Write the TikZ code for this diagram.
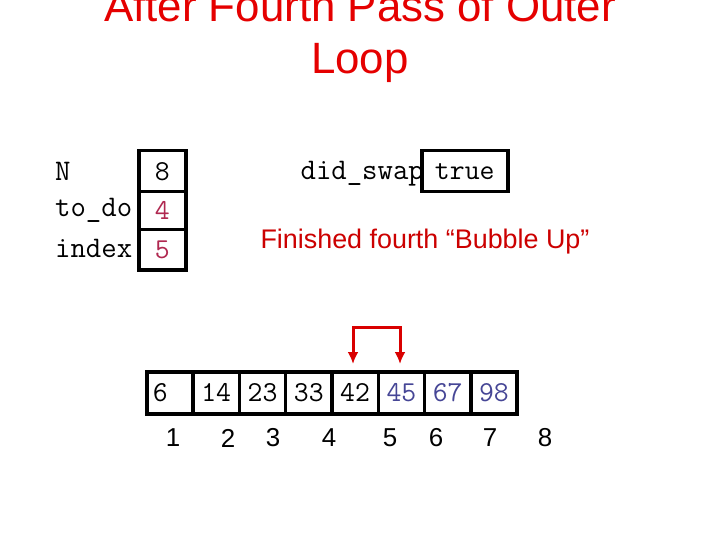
\documentclass[tikz,border=0pt]{standalone}
\usepackage{fontspec}
\setmainfont{Liberation Sans}
\usetikzlibrary{arrows.meta}
\definecolor{magred}{RGB}{176,40,80}
\definecolor{slate}{RGB}{70,70,150}
\begin{document}
\begin{tikzpicture}[x=1bp,y=-1bp,
  cell/.style={draw=black,line width=3.5bp,minimum width=47bp,minimum height=42bp,inner sep=0pt,font=\ttfamily\fontsize{29}{29}\selectfont,anchor=north west},
  lbl/.style={font=\ttfamily\fontsize{30}{30}\selectfont,anchor=west,inner sep=0pt},
  idx/.style={font=\fontsize{26}{26}\selectfont,inner sep=0pt},
  arr/.style={draw=red!85!black,line width=3bp,-{Latex[length=12bp,width=11bp]}}]
\useasboundingbox (0,0) rectangle (720,540);
\fill[white] (0,0) rectangle (720,540);
\node[text=red!90!black,font=\fontsize{44}{52}\selectfont,align=center] (title) at (360,36) {After Fourth Pass of Outer\\Loop};
% variables
\node[lbl] (Nl) at (55,171) {N};
\node[lbl] (todol) at (55,210) {to\_do};
\node[lbl] (indexl) at (55,248) {index};
\node[cell,minimum height=41bp] (N) at (137,149) {8};
\node[cell,minimum height=38bp,text=magred] (todo) at (137,190) {4};
\node[cell,minimum height=40bp,text=magred] (index) at (137,228) {5};
\node[lbl,anchor=east] (dsl) at (424,174) {did\_swap};
\node[cell,minimum width=86bp,minimum height=41bp] (ds) at (420,149) {true};
\node[text=red!80!black,font=\fontsize{27}{27}\selectfont] (fin) at (425,242) {Finished fourth “Bubble Up”};
% array
\foreach \v/\c [count=\i] in {14/black,23/black,33/black,42/black,45/slate,67/slate,98/slate}{
  \node[cell,minimum width=46.3bp,text=\c] (a\i) at ({145+46.3*\i},370) {\v};
}
\node[cell,minimum width=46.3bp,text width=34bp,align=left,inner xsep=6bp] (a0) at (145,370) {6};
\coordinate (t5) at (353,327);
\coordinate (t6) at (400,327);
\draw[line width=3bp,red!85!black] (353,350) -- (t5) -- (t6) -- (400,350);
\draw[arr] (353,345) -- (353,364);
\draw[arr] (400,345) -- (400,364);
\foreach \n/\x in {1/173,2/228,3/273,4/329,5/390,6/436,7/490,8/545}{
  \node[idx] (i\n) at (\x,438) {\n};
}
\end{tikzpicture}
\end{document}
